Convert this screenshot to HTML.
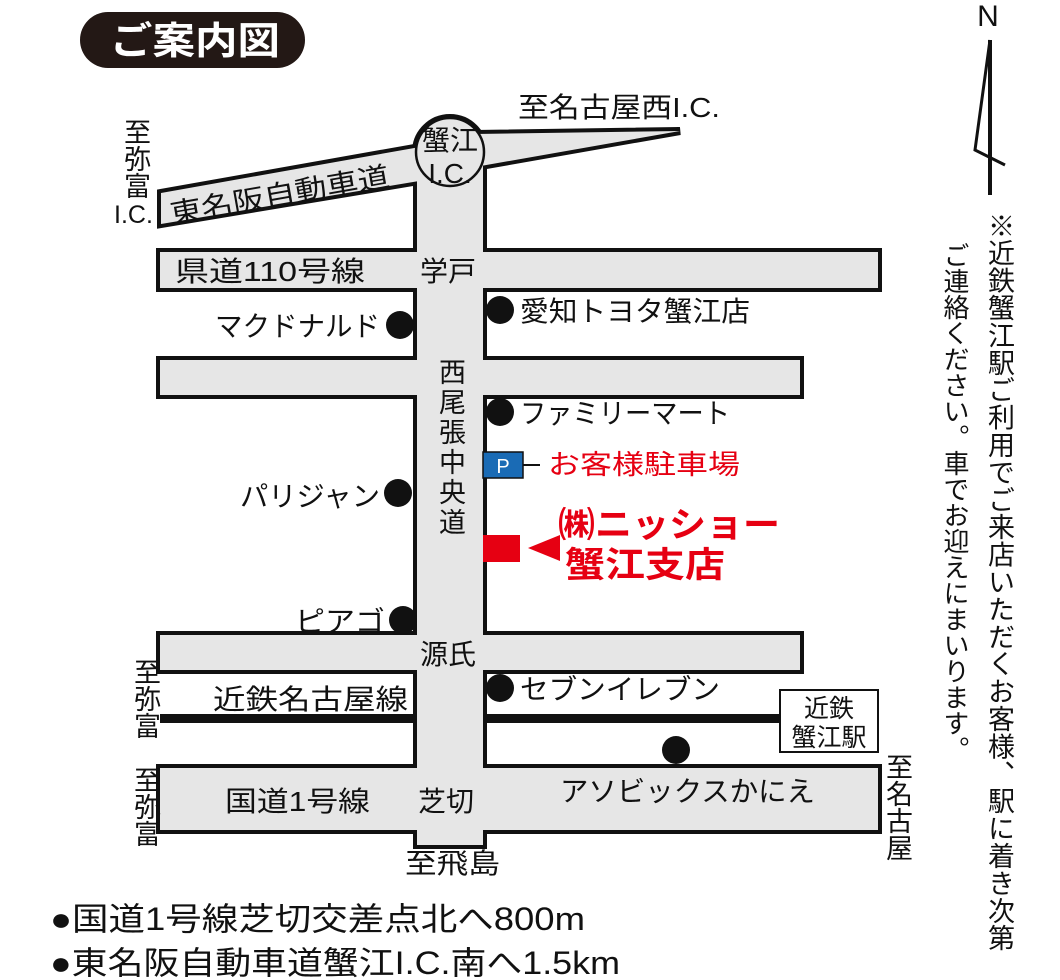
<!DOCTYPE html>
<html><head><meta charset="utf-8"><style>
body{margin:0;background:#fff;}
svg text{font-family:"Liberation Sans","Noto Sans CJK JP",sans-serif;}
.v{position:absolute;writing-mode:vertical-rl;font-family:"Liberation Sans","Noto Sans CJK JP",sans-serif;color:#111;}
</style></head><body>
<div style="position:relative;width:1060px;height:980px;overflow:hidden">
<svg width="1060" height="980" viewBox="0 0 1060 980" style="position:absolute;left:0;top:0">
<defs>
<g id="roads">
<rect x="160" y="252" width="718" height="36"/>
<rect x="160" y="360" width="640" height="35"/>
<rect x="160" y="635" width="640" height="35"/>
<rect x="160" y="768" width="718" height="62"/>
<rect x="417" y="160" width="66" height="685"/>
<polygon points="161,193 420,147 425,180 161,224"/>
<polygon points="475,134 680,131 475,167"/>
<circle cx="450" cy="152" r="34"/>
</g>
</defs>
<use href="#roads" fill="#111" stroke="#111" stroke-width="8"/>
<use href="#roads" fill="#e6e6e6"/>
<circle cx="450" cy="152" r="34" fill="#e6e6e6" stroke="#111" stroke-width="2.5"/>
<rect x="160" y="714" width="257" height="9" fill="#111"/>
<rect x="483" y="714" width="297" height="9" fill="#111"/>
<rect x="80" y="12" width="225" height="56" rx="28" fill="#231815"/>
<text x="110" y="54" font-size="38" fill="#fff" textLength="170" lengthAdjust="spacingAndGlyphs" font-weight="bold">ご案内図</text>
<text x="988" y="26" font-size="30" text-anchor="middle" fill="#111">N</text>
<polyline points="990,40 975,150 1005,165" fill="none" stroke="#111" stroke-width="3"/>
<line x1="990" y1="40" x2="990" y2="195" stroke="#111" stroke-width="4"/>
<g font-size="28" fill="#111">
<text x="518" y="117" textLength="202" lengthAdjust="spacingAndGlyphs">至名古屋西I.C.</text>
<text x="450" y="150" text-anchor="middle">蟹江</text>
<text x="450" y="183" text-anchor="middle">I.C.</text>
<text x="172" y="224" transform="rotate(-10 172 224)" textLength="222" lengthAdjust="spacingAndGlyphs">東名阪自動車道</text>
<text x="175" y="281" textLength="190" lengthAdjust="spacingAndGlyphs">県道110号線</text>
<text x="420" y="281">学戸</text>
<text x="215" y="336" textLength="165" lengthAdjust="spacingAndGlyphs">マクドナルド</text>
<text x="520" y="321" textLength="230" lengthAdjust="spacingAndGlyphs">愛知トヨタ蟹江店</text>
<text x="520" y="423" textLength="210" lengthAdjust="spacingAndGlyphs">ファミリーマート</text>
<text x="240" y="506" textLength="140" lengthAdjust="spacingAndGlyphs">パリジャン</text>
<text x="295" y="631" textLength="90" lengthAdjust="spacingAndGlyphs">ピアゴ</text>
<text x="420" y="664">源氏</text>
<text x="520" y="699" textLength="200" lengthAdjust="spacingAndGlyphs">セブンイレブン</text>
<text x="213" y="709" textLength="195" lengthAdjust="spacingAndGlyphs">近鉄名古屋線</text>
<text x="560" y="801" textLength="255" lengthAdjust="spacingAndGlyphs">アソビックスかにえ</text>
<text x="225" y="811" textLength="145" lengthAdjust="spacingAndGlyphs">国道1号線</text>
<text x="418" y="811">芝切</text>
<text x="405" y="873" textLength="95" lengthAdjust="spacingAndGlyphs">至飛島</text>
<text x="50" y="930" font-size="32" textLength="535" lengthAdjust="spacingAndGlyphs">●国道1号線芝切交差点北へ800m</text>
<text x="50" y="974" font-size="32" textLength="570" lengthAdjust="spacingAndGlyphs">●東名阪自動車道蟹江I.C.南へ1.5km</text>
</g>
<g fill="#111">
<circle cx="400" cy="325" r="14"/><circle cx="500" cy="310" r="14"/>
<circle cx="500" cy="412" r="14"/><circle cx="398" cy="493" r="14"/>
<circle cx="403" cy="620" r="14"/><circle cx="500" cy="688" r="14"/>
<circle cx="676" cy="750" r="14"/>
</g>
<rect x="780" y="690" width="98" height="62" fill="#fff" stroke="#111" stroke-width="2"/>
<text x="829" y="717" font-size="25" text-anchor="middle" fill="#111">近鉄</text>
<text x="829" y="746" font-size="25" text-anchor="middle" fill="#111">蟹江駅</text>
<rect x="483" y="452" width="40" height="26" fill="#1a6bb5" stroke="#111" stroke-width="1.5"/>
<text x="503" y="473" font-size="20" fill="#fff" text-anchor="middle">P</text>
<line x1="523" y1="465" x2="540" y2="465" stroke="#111" stroke-width="2"/>
<text x="548" y="474" font-size="27" fill="#e60012" textLength="192" lengthAdjust="spacingAndGlyphs">お客様駐車場</text>
<rect x="483" y="535" width="37" height="27" fill="#e60012"/>
<polygon points="528,548 560,535 560,561" fill="#e60012"/>
<text x="558" y="537" font-size="35" font-weight="bold" fill="#e60012" textLength="222" lengthAdjust="spacingAndGlyphs">㈱ニッショー</text>
<text x="565" y="577" font-size="35" font-weight="bold" fill="#e60012" textLength="160" lengthAdjust="spacingAndGlyphs">蟹江支店</text>
</svg>
<div class="v" style="left:120px;top:118px;font-size:27px;line-height:30px">至弥富</div>
<div class="v" style="left:114px;top:200px;font-size:25px;line-height:30px;writing-mode:horizontal-tb">I.C.</div>
<div class="v" style="left:436px;top:358px;font-size:27px;line-height:27px;letter-spacing:3px">西尾張中央道</div>
<div class="v" style="left:130px;top:658px;font-size:27px;line-height:30px">至弥富</div>
<div class="v" style="left:130px;top:766px;font-size:27px;line-height:30px">至弥富</div>
<div class="v" style="left:882px;top:753px;font-size:27px;line-height:30px">至名古屋</div>
<div class="v" style="left:984px;top:212px;font-size:27px;line-height:30px;letter-spacing:0.4px">※近鉄蟹江駅ご利用でご来店いただくお客様、駅に着き次第</div>
<div class="v" style="left:940px;top:242px;font-size:26px;line-height:30px">ご連絡ください。車でお迎えにまいります。</div>
</div>
</body></html>
